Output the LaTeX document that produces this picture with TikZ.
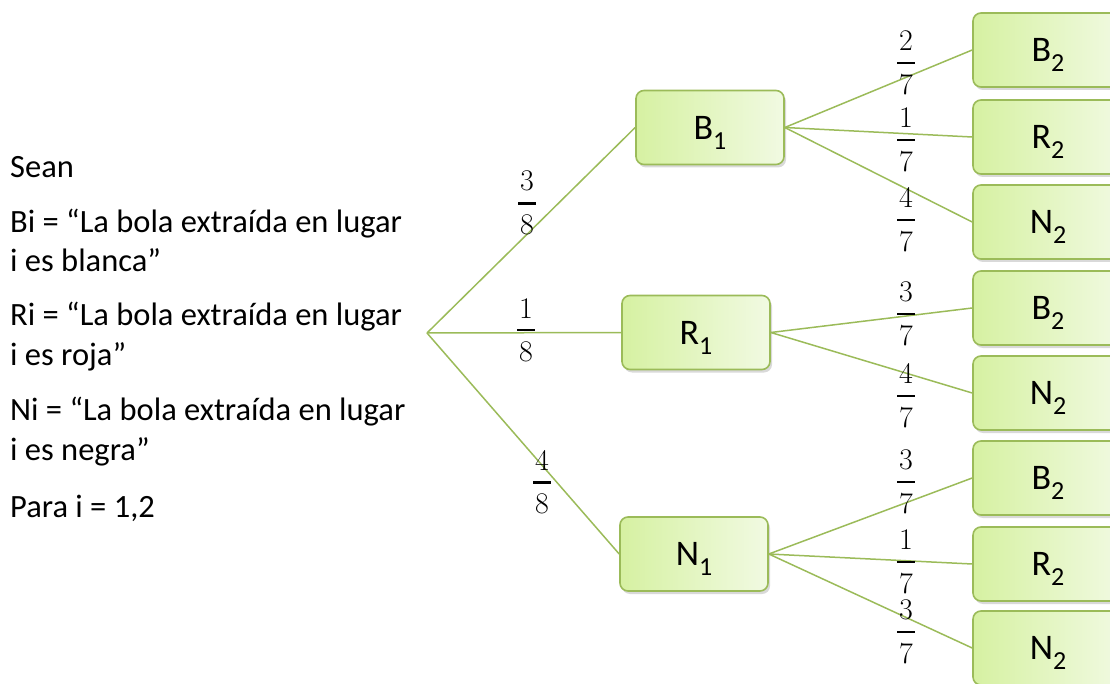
\documentclass[tikz,border=0pt]{standalone}
\usepackage{fontspec}
\newfontfamily\calib{Carlito}
\usetikzlibrary{shadows}
\definecolor{olivegr}{HTML}{9BBB59}
\definecolor{boxA}{HTML}{D6F1A2}
\definecolor{boxB}{HTML}{F1FAE2}
\newcommand{\frc}[2]{\vbox{\offinterlineskip\halign{\hfil##\hfil\cr
  #1\cr\noalign{\kern11pt}
  \rule{18pt}{2.4pt}\cr\noalign{\kern10pt}
  #2\cr}}}
\newcommand{\lbl}[2]{#1\raisebox{-10pt}[0pt][0pt]{\fontsize{26}{26}\selectfont #2}}
\tikzset{
  box/.style={draw=olivegr, line width=1.6pt, rounded corners=8pt,
    minimum width=148pt, minimum height=74pt, inner sep=0pt,
    left color=boxA, right color=boxB,
    drop shadow={opacity=0.3, shadow xshift=2pt, shadow yshift=-3pt},
    font=\calib\fontsize{36}{40}\selectfont},
  rbox/.style={box, minimum width=150pt},
  conn/.style={draw=olivegr, line width=1.5pt},
  frac/.style={inner sep=0pt, font=\rmfamily\fontsize{30}{34}\selectfont},
  txt/.style={anchor=base west, inner sep=0pt, font=\calib\fontsize{32.5}{39}\selectfont}
}
\begin{document}
\begin{tikzpicture}[x=1pt,y=-1pt]
\useasboundingbox (0,0) rectangle (1110,684);
% left text
\node[txt] (t1) at (10,178) {Sean};
\node[txt] (t2) at (10,233) {Bi = “La bola extraída en lugar};
\node[txt] (t3) at (10,272) {i es blanca”};
\node[txt] (t4) at (10,325) {Ri = “La bola extraída en lugar};
\node[txt] (t5) at (10,365) {i es roja”};
\node[txt] (t6) at (10,420) {Ni = “La bola extraída en lugar};
\node[txt] (t7) at (10,460) {i es negra”};
\node[txt] (t8) at (10,517) {Para i = 1,2};
% root
\coordinate (root) at (427,333);
% first level boxes
\node[box] (B1) at (710,127.5) {\lbl{B}{1}};
\node[box] (R1) at (696,332.5) {\lbl{R}{1}};
\node[box] (N1) at (694,554) {\lbl{N}{1}};
% second level boxes
\node[rbox] (B2a) at (1048,50) {\lbl{B}{2}};
\node[rbox] (R2a) at (1048,137) {\lbl{R}{2}};
\node[rbox] (N2a) at (1048,222) {\lbl{N}{2}};
\node[rbox] (B2b) at (1048,308) {\lbl{B}{2}};
\node[rbox] (N2b) at (1048,393) {\lbl{N}{2}};
\node[rbox] (B2c) at (1048,478) {\lbl{B}{2}};
\node[rbox] (R2c) at (1048,564) {\lbl{R}{2}};
\node[rbox] (N2c) at (1048,648) {\lbl{N}{2}};
% connectors
\draw[conn] (root) -- (B1.west);
\draw[conn] (root) -- (R1.west);
\draw[conn] (root) -- (N1.west);
\draw[conn] (B1.east) -- (B2a.west);
\draw[conn] (B1.east) -- (R2a.west);
\draw[conn] (B1.east) -- (N2a.west);
\draw[conn] (R1.east) -- (B2b.west);
\draw[conn] (R1.east) -- (N2b.west);
\draw[conn] (N1.east) -- (B2c.west);
\draw[conn] (N1.east) -- (R2c.west);
\draw[conn] (N1.east) -- (N2c.west);
% fractions
\node[frac] (f1) at (527,203) {\frc{3}{8}};
\node[frac] (f2) at (526,330) {\frc{1}{8}};
\node[frac] (f3) at (542,482) {\frc{4}{8}};
\node[frac] (f4) at (906,63) {\frc{2}{7}};
\node[frac] (f5) at (906,140) {\frc{1}{7}};
\node[frac] (f6) at (906,220) {\frc{4}{7}};
\node[frac] (f7) at (906,314) {\frc{3}{7}};
\node[frac] (f8) at (906,396) {\frc{4}{7}};
\node[frac] (f9) at (906,482) {\frc{3}{7}};
\node[frac] (f10) at (906,562) {\frc{1}{7}};
\node[frac] (f11) at (906,632) {\frc{3}{7}};
\end{tikzpicture}
\end{document}
